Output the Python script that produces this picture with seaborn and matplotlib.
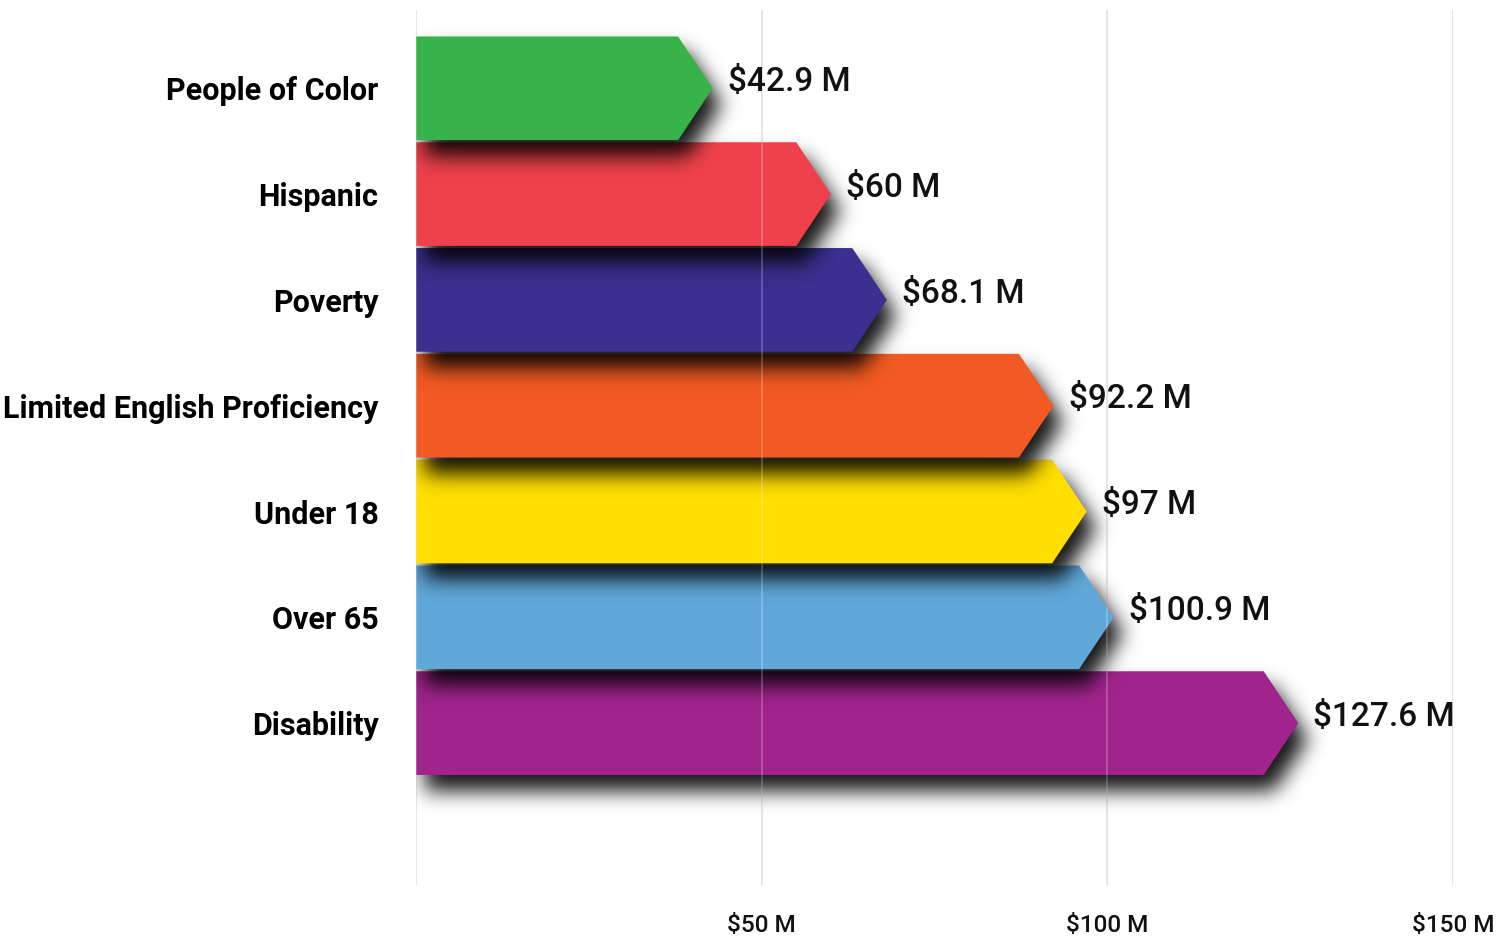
import numpy as np
import pandas as pd
import matplotlib
matplotlib.use("Agg")
import matplotlib.pyplot as plt
from matplotlib.patches import Polygon
from matplotlib.path import Path
import seaborn as sns

# ---- data ----
categories = ["People of Color", "Hispanic", "Poverty", "Limited English Proficiency",
              "Under 18", "Over 65", "Disability"]
values = [42.9, 60, 68.1, 92.2, 97, 100.9, 127.6]
value_labels = ["$42.9 M", "$60 M", "$68.1 M", "$92.2 M", "$97 M", "$100.9 M", "$127.6 M"]
colors = ["#37b34a", "#ef414b", "#3b2f8f", "#f15a22", "#ffde00", "#5fa8d9", "#a0248c"]
x_ticks = [0, 50, 100, 150]
x_tick_labels = ["", "$50 M", "$100 M", "$150 M"]

sns.set_theme(style="white")
plt.rcParams['font.family'] = ['Roboto', 'DejaVu Sans']

df = pd.DataFrame({"Group": categories, "Amount": values})

W_FIG, H_FIG = 1508, 936
fig = plt.figure(figsize=(W_FIG / 100, H_FIG / 100), dpi=100)
ax_rect = [0.2759, 0.0545, 0.6877, 0.9348]
ax = fig.add_axes(ax_rect)

sns.barplot(data=df, x="Amount", y="Group", hue="Group", palette=colors,
            width=0.98, saturation=1, legend=False, ax=ax)

xlim = (0, 150)
ylim = (7.53, -0.74)

# pixel grid of the axes, used for the blurred drop shadows
npx_w = int(round(ax_rect[2] * W_FIG))
npx_h = int(round(ax_rect[3] * H_FIG))
px_x = (np.arange(npx_w) + 0.5) / npx_w * (xlim[1] - xlim[0]) + xlim[0]
px_y = (np.arange(npx_h) + 0.5) / npx_h * (ylim[0] - ylim[1]) + ylim[1]
gx, gy = np.meshgrid(px_x, px_y)


def gauss_matrix(n, sigma):
    idx = np.arange(n)
    k = np.exp(-((idx[:, None] - idx[None, :]) ** 2) / (2 * sigma ** 2))
    return (k / (np.sqrt(2 * np.pi) * sigma)).astype(np.float32)


sigma = 10.0
kx = gauss_matrix(npx_w, sigma)
ky = gauss_matrix(npx_h, sigma)
shift_x = 9 * (xlim[1] - xlim[0]) / npx_w       # px to the right
shift_y = 16 * (ylim[0] - ylim[1]) / npx_h      # px down

head = 5  # arrow head length in data units
bars = [c.patches[0] for c in ax.containers]
for i, bar in enumerate(bars):
    x0, y0 = bar.get_x(), bar.get_y()
    w, h = bar.get_width(), bar.get_height()
    yc = y0 + h / 2
    color = bar.get_facecolor()
    bar.remove()
    verts = [(x0, y0), (x0 + w - head, y0), (x0 + w, yc),
             (x0 + w - head, y0 + h), (x0, y0 + h)]
    arrow = Polygon(verts, closed=True, facecolor=color, edgecolor="none",
                    zorder=10 - i)
    ax.add_patch(arrow)

    # shadow: shifted mask, gaussian blurred
    path = Path(verts + [verts[0]], closed=True)
    pts = np.column_stack([(gx - shift_x).ravel(), (gy - shift_y).ravel()])
    mask = path.contains_points(pts).reshape(gx.shape).astype(np.float32)
    blurred = ky @ mask @ kx
    rgba = np.zeros((npx_h, npx_w, 4), dtype=np.float32)
    rgba[..., 3] = np.clip(blurred * 0.92, 0, 1)
    ax.imshow(rgba, extent=(xlim[0], xlim[1], ylim[0], ylim[1]), aspect="auto",
              interpolation="bilinear", zorder=10 - i - 0.5)

    ax.text(x0 + w + 2.2, yc - 0.06, value_labels[i], ha="left", va="center",
            fontsize=24, fontweight="medium", color="#111111", zorder=20)

# grid: grey below, faint light line over the bars
ax.set_axisbelow(True)
ax.xaxis.grid(True, color="#d9d9d9", lw=1.2)
for x in x_ticks:
    ax.axvline(x, color="white", alpha=0.25, lw=1.2, zorder=15)

ax.set_xlim(*xlim)
ax.set_ylim(*ylim)
ax.set_aspect("auto")
ax.set_xticks(x_ticks)
ax.set_xticklabels(x_tick_labels, fontsize=17.5, fontweight="medium", color="#111111")
ax.tick_params(axis="x", length=0, pad=21)
ax.tick_params(axis="y", length=0, pad=27)
for lab in ax.get_yticklabels():
    lab.set_fontsize(22)
    lab.set_fontweight("bold")
    lab.set_color("black")
ax.set_xlabel("")
ax.set_ylabel("")
sns.despine(ax=ax, left=True, bottom=True)

fig.savefig("out.png", dpi=100)
